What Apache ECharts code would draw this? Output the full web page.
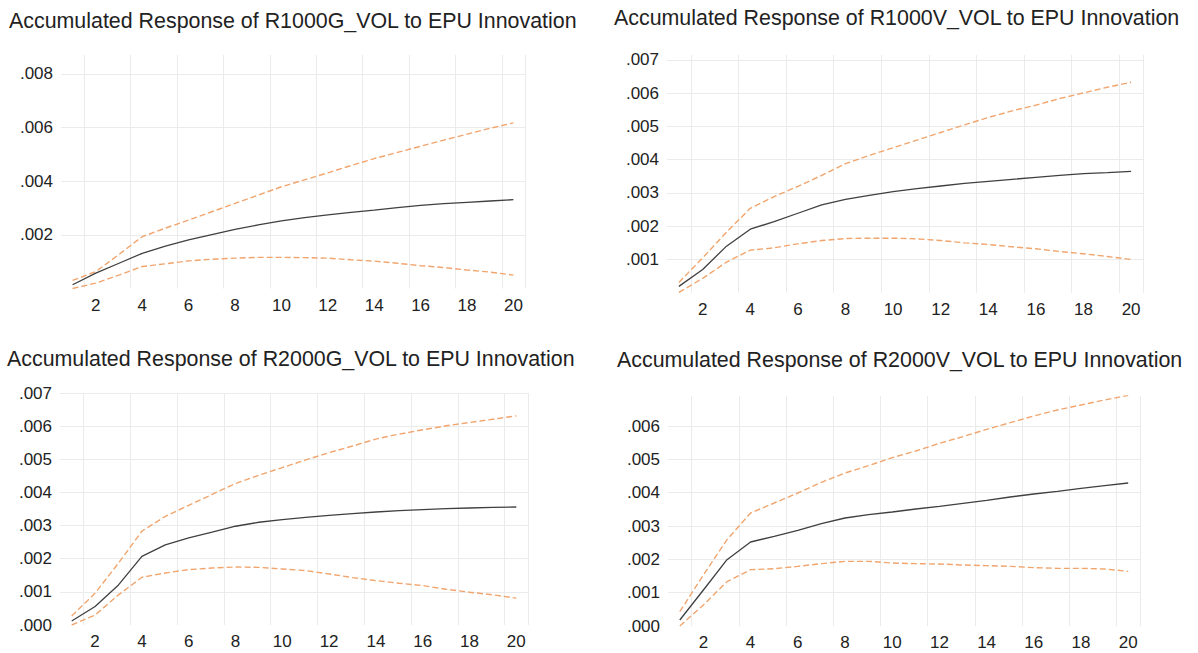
<!DOCTYPE html>
<html>
<head>
<meta charset="utf-8">
<script src="https://cdn.jsdelivr.net/npm/echarts@6/dist/echarts.min.js"></script>
<style>
html,body{margin:0;padding:0;background:#fff;}
#chart{width:1198px;height:653px;}
</style>
</head>
<body>
<div id="chart"></div>
<script>
// Horizon (periods)
const periods = ['1','2','3','4','5','6','7','8','9','10','11','12','13','14','15','16','17','18','19','20'];

// Panel titles
const titles = [
  'Accumulated Response of R1000G_VOL to EPU Innovation',
  'Accumulated Response of R1000V_VOL to EPU Innovation',
  'Accumulated Response of R2000G_VOL to EPU Innovation',
  'Accumulated Response of R2000V_VOL to EPU Innovation'
];

// R1000G_VOL
const r1000gResp  = [0.00014,0.00057,0.00094,0.00131,0.00158,0.00181,0.00201,0.00220,0.00237,0.00252,0.00264,0.00274,0.00284,0.00292,0.00301,0.00310,0.00316,0.00321,0.00326,0.00331];
const r1000gUpper = [0.00030,0.00063,0.00127,0.00193,0.00225,0.00255,0.00286,0.00317,0.00348,0.00379,0.00405,0.00431,0.00458,0.00484,0.00507,0.00530,0.00553,0.00575,0.00597,0.00617];
const r1000gLower = [0.00000,0.00020,0.00050,0.00082,0.00092,0.00103,0.00109,0.00113,0.00116,0.00116,0.00115,0.00113,0.00107,0.00102,0.00094,0.00085,0.00078,0.00069,0.00061,0.00050];

// R1000V_VOL
const r1000vResp  = [0.00019,0.00070,0.00140,0.00191,0.00214,0.00239,0.00264,0.00281,0.00293,0.00304,0.00313,0.00321,0.00329,0.00335,0.00341,0.00347,0.00353,0.00358,0.00361,0.00365];
const r1000vUpper = [0.00031,0.00105,0.00182,0.00254,0.00289,0.00320,0.00353,0.00388,0.00413,0.00436,0.00459,0.00482,0.00505,0.00527,0.00547,0.00564,0.00584,0.00601,0.00618,0.00633];
const r1000vLower = [0.00001,0.00043,0.00092,0.00128,0.00135,0.00147,0.00157,0.00163,0.00164,0.00164,0.00162,0.00157,0.00150,0.00145,0.00138,0.00132,0.00124,0.00117,0.00109,0.00100];

// R2000G_VOL
const r2000gResp  = [0.00012,0.00056,0.00121,0.00207,0.00242,0.00263,0.00280,0.00298,0.00310,0.00318,0.00325,0.00331,0.00336,0.00341,0.00345,0.00348,0.00351,0.00353,0.00355,0.00356];
const r2000gUpper = [0.00027,0.00096,0.00187,0.00283,0.00328,0.00361,0.00394,0.00427,0.00452,0.00475,0.00498,0.00520,0.00540,0.00561,0.00576,0.00589,0.00601,0.00611,0.00621,0.00631];
const r2000gLower = [0.00000,0.00030,0.00091,0.00144,0.00157,0.00167,0.00172,0.00175,0.00174,0.00169,0.00164,0.00154,0.00143,0.00134,0.00126,0.00119,0.00108,0.00099,0.00091,0.00081];

// R2000V_VOL
const r2000vResp  = [0.00018,0.00108,0.00199,0.00252,0.00269,0.00287,0.00307,0.00324,0.00334,0.00342,0.00351,0.00359,0.00368,0.00377,0.00387,0.00396,0.00404,0.00413,0.00421,0.00429];
const r2000vUpper = [0.00043,0.00153,0.00259,0.00339,0.00369,0.00399,0.00431,0.00459,0.00481,0.00505,0.00525,0.00548,0.00568,0.00590,0.00610,0.00630,0.00648,0.00663,0.00678,0.00692];
const r2000vLower = [0.00000,0.00063,0.00133,0.00169,0.00172,0.00179,0.00187,0.00194,0.00194,0.00189,0.00187,0.00186,0.00183,0.00181,0.00179,0.00175,0.00173,0.00173,0.00171,0.00164];

// Y axis ranges / tick steps per panel
const yMin = [0, 0, 0, 0];
const yMax = [0.0087, 0.00715, 0.007, 0.0069];
const yStep = [0.002, 0.001, 0.001, 0.001];
const showZero = [false, false, true, true];

const panels = [
  {resp: r1000gResp, upper: r1000gUpper, lower: r1000gLower},
  {resp: r1000vResp, upper: r1000vUpper, lower: r1000vLower},
  {resp: r2000gResp, upper: r2000gUpper, lower: r2000gLower},
  {resp: r2000vResp, upper: r2000vUpper, lower: r2000vLower}
];

// layout
const gridPos = [
  {left: 61,  top: 55,  width: 464, height: 233.5},
  {left: 667, top: 55,  width: 476, height: 237.7},
  {left: 60,  top: 393, width: 468, height: 232},
  {left: 668, top: 396, width: 472, height: 230}
];
const titlePos = [
  {left: 9, top: 10},
  {left: 614, top: 7},
  {left: 7, top: 348},
  {left: 617, top: 349}
];

const FONT = '"Liberation Sans", Arial, sans-serif';
const orange = '#F1A56E';
const dark = '#404040';
const gridColor = '#ebebeb';
const evenIdx = function (i) { return i % 2 === 1; };

const option = {
  backgroundColor: '#ffffff',
  animation: false,
  title: titles.map(function (t, i) {
    return {
      text: t, left: titlePos[i].left, top: titlePos[i].top, padding: 0,
      textStyle: {fontFamily: FONT, fontSize: 21.4, fontWeight: 'normal', color: '#222'}
    };
  }),
  grid: gridPos.map(function (g) {
    return {left: g.left, top: g.top, width: g.width, height: g.height, containLabel: false};
  }),
  xAxis: gridPos.map(function (g, i) {
    return {
      type: 'category', gridIndex: i, data: periods, boundaryGap: true,
      axisLine: {show: false}, axisTick: {show: false, interval: evenIdx},
      axisLabel: {interval: evenIdx, margin: 8, fontFamily: FONT, fontSize: 17, color: '#222'},
      splitLine: {show: true, interval: evenIdx, lineStyle: {color: gridColor, width: 1}}
    };
  }),
  yAxis: gridPos.map(function (g, i) {
    return {
      type: 'value', gridIndex: i, min: yMin[i], max: yMax[i], interval: yStep[i],
      axisLine: {show: false}, axisTick: {show: false},
      axisLabel: {
        showMinLabel: showZero[i], showMaxLabel: (yMax[i] % yStep[i]) < 1e-9, margin: 8,
        fontFamily: FONT, fontSize: 17, color: '#222',
        formatter: function (v) { return v.toFixed(3).replace(/^0/, ''); }
      },
      splitLine: {show: true, showMinLine: false, showMaxLine: i === 2,
        lineStyle: {color: gridColor, width: 1}}
    };
  }),
  series: []
};

panels.forEach(function (p, i) {
  option.series.push({
    type: 'line', xAxisIndex: i, yAxisIndex: i, data: p.upper, symbol: 'none',
    lineStyle: {color: orange, width: 1.4, type: [6, 3]}, z: 3
  });
  option.series.push({
    type: 'line', xAxisIndex: i, yAxisIndex: i, data: p.lower, symbol: 'none',
    lineStyle: {color: orange, width: 1.4, type: [6, 3]}, z: 3
  });
  option.series.push({
    type: 'line', xAxisIndex: i, yAxisIndex: i, data: p.resp, symbol: 'none',
    lineStyle: {color: dark, width: 1.3, type: 'solid'}, z: 4
  });
});

const chart = echarts.init(document.getElementById('chart'), null, {renderer: 'svg'});
chart.setOption(option);
</script>
</body>
</html>
